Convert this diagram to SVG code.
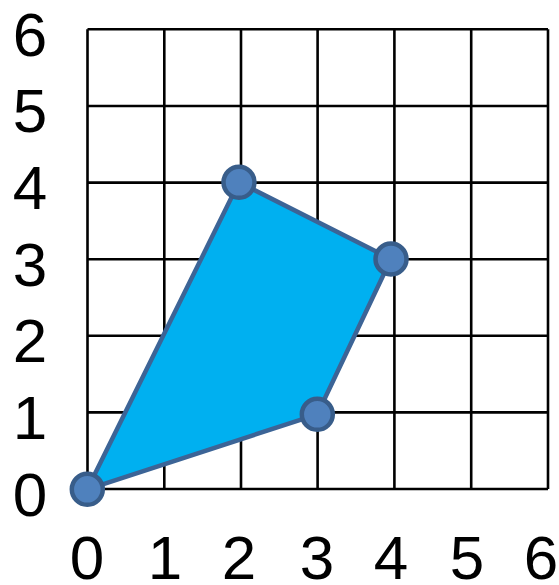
<svg xmlns="http://www.w3.org/2000/svg" width="559" height="585" viewBox="0 0 559 585">
<style>
.g{stroke:#000;stroke-width:2.6;fill:none}
.t{font-family:"Liberation Sans",Arial,sans-serif;font-size:62px;fill:#000;text-anchor:middle}
.p{fill:#4F81BD;stroke:#385D8A;stroke-width:4.5}
</style>
<rect width="559" height="585" fill="#fff"/>
<g id="grid" class="g">
<path d="M87.5 29.3V489M164.3 29.3V489M241 29.3V489M317.6 29.3V489M394.4 29.3V489M471.2 29.3V489M548 29.3V489"/>
<path d="M87.5 29.3H548M87.5 106H548M87.5 182.6H548M87.5 259.2H548M87.5 335.8H548M87.5 412.4H548M87.5 489H548"/>
</g>
<g id="labels">
<text class="t" x="30" y="56">6</text>
<text class="t" x="30" y="132">5</text>
<text class="t" x="30" y="209">4</text>
<text class="t" x="30" y="286">3</text>
<text class="t" x="30" y="362">2</text>
<text class="t" x="30" y="439">1</text>
<text class="t" x="30" y="516">0</text>
<text class="t" x="87" y="579">0</text>
<text class="t" x="165" y="579">1</text>
<text class="t" x="239" y="579">2</text>
<text class="t" x="317" y="579">3</text>
<text class="t" x="391" y="579">4</text>
<text class="t" x="467" y="579">5</text>
<text class="t" x="541" y="579">6</text>
</g>
<g id="connectors">
<polygon points="87.3,489.3 239,182.3 391,259 317.3,414.3" fill="#00B0F0" stroke="#3C6496" stroke-width="4.5" stroke-linejoin="round"/>
</g>
<g id="p00"><circle class="p" cx="87.3" cy="489.3" r="15.5"/></g>
<g id="p24"><circle class="p" cx="239" cy="182.3" r="15.5"/></g>
<g id="p43"><circle class="p" cx="391" cy="259" r="15.5"/></g>
<g id="p31"><circle class="p" cx="317.3" cy="414.3" r="15.5"/></g>
</svg>
